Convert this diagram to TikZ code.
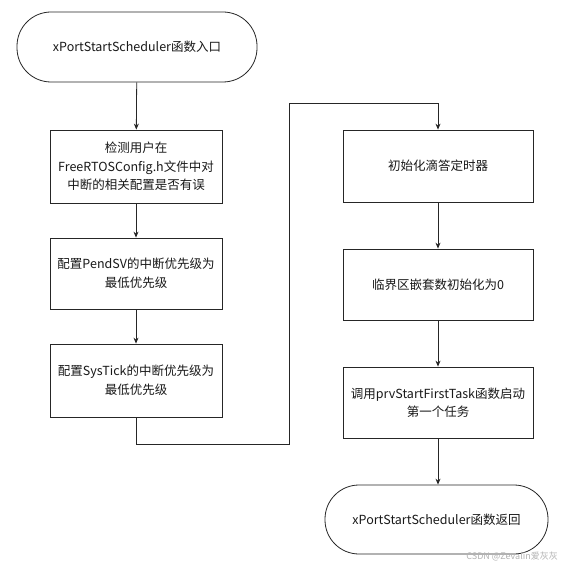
\documentclass[tikz,border=0pt]{standalone}
\usepackage{fontspec}
\setmainfont{Noto Sans CJK SC}
\usetikzlibrary{arrows.meta}
\begin{document}
\begin{tikzpicture}[x=1pt,y=1pt,
  every node/.style={font=\fontsize{12.5}{18.5}\selectfont, text=black!90, align=center, inner sep=0pt},
  term/.style={draw=black!85, line width=0.8pt, rounded corners=34pt, fill=white},
  proc/.style={draw=black!85, line width=0.8pt, fill=white, minimum width=172pt},
  procr/.style={draw=black!85, line width=0.8pt, fill=white, minimum width=190pt},
  arr/.style={draw=black!85, line width=0.8pt, -{Stealth[length=6pt,width=5pt]}}]
\useasboundingbox (0,0) rectangle (562,-567);
\node[term, minimum width=240pt, minimum height=70pt] (start) at (137,-47) {xPortStartScheduler函数入口};
\node[proc, minimum height=73pt] (b1) at (136,-166.5) {检测用户在\\FreeRTOSConfig.h文件中对\\中断的相关配置是否有误};
\node[proc, minimum height=71pt] (b2) at (136,-273.5) {配置PendSV的中断优先级为\\最低优先级};
\node[proc, minimum height=73pt] (b3) at (136,-380.5) {配置SysTick的中断优先级为\\最低优先级};
\node[procr, minimum height=72pt] (b4) at (438,-166) {初始化滴答定时器};
\node[procr, minimum height=71pt] (b5) at (438,-284.5) {临界区嵌套数初始化为0};
\node[procr, minimum height=71pt] (b6) at (438,-402.5) {调用prvStartFirstTask函数启动\\第一个任务};
\node[term, minimum width=223pt, minimum height=69pt] (end) at (436.5,-519.5) {xPortStartScheduler函数返回};
\coordinate (c1) at (289,-444);
\coordinate (c2) at (289,-103);
\draw[arr] (start) -- (b1);
\draw[arr] (b1) -- (b2);
\draw[arr] (b2) -- (b3);
\draw[arr] (b3.south) |- (c1) -- (c2) -| (b4.north);
\draw[arr] (b4) -- (b5);
\draw[arr] (b5) -- (b6);
\draw[arr] (b6.south) -- (b6.south |- end.north);
\node[font=\fontsize{9}{10}\selectfont, text=black!30, anchor=east] (wm) at (558,-556) {CSDN @Zevalin爱灰灰};
\end{tikzpicture}
\end{document}
